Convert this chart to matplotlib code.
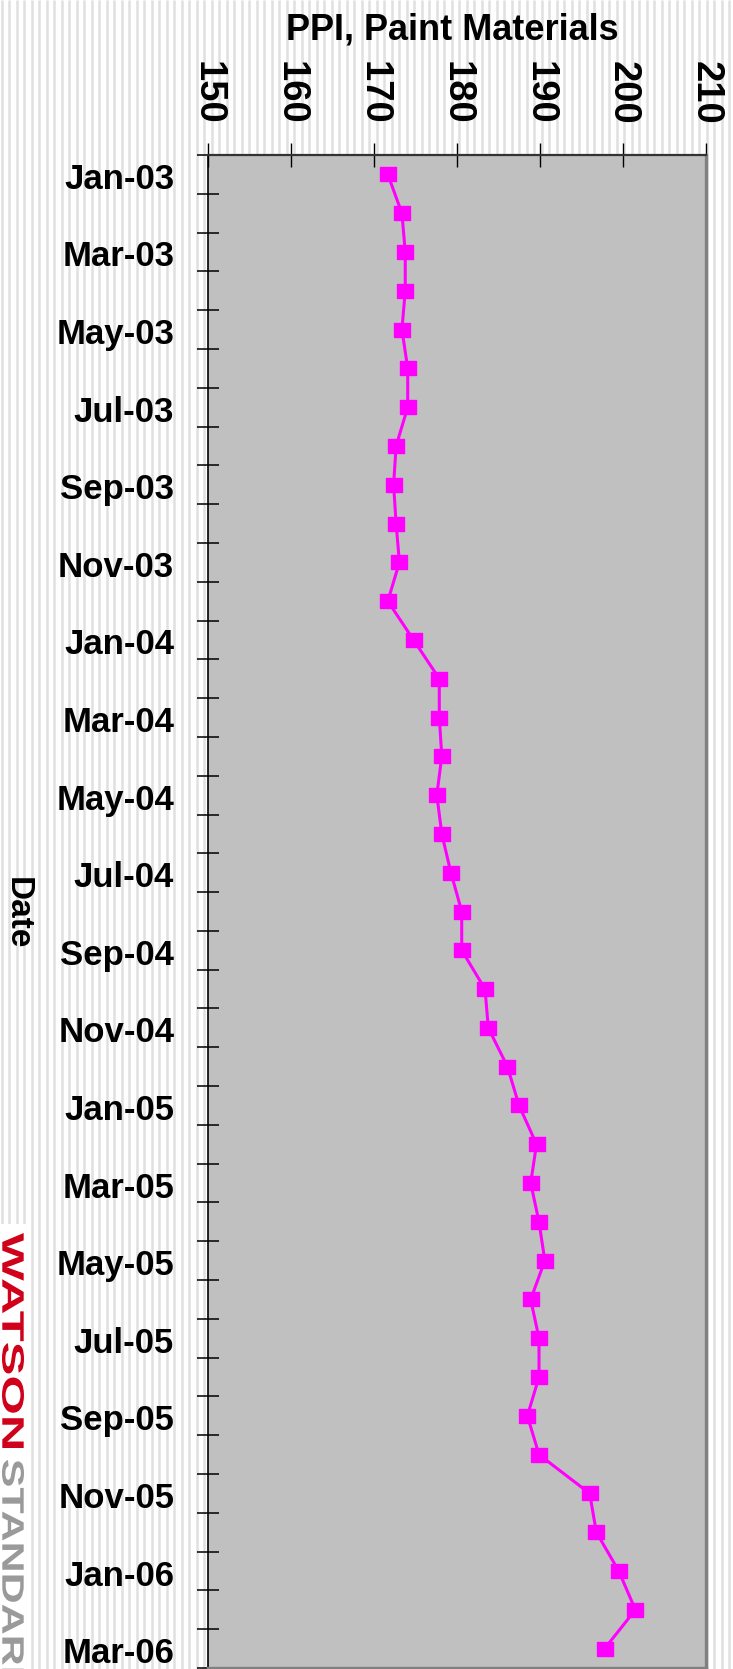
import matplotlib.pyplot as plt
import numpy as np
import pandas as pd
from matplotlib.textpath import TextPath
from matplotlib.patches import PathPatch, Rectangle
from matplotlib.font_manager import FontProperties
from matplotlib.transforms import Affine2D, ScaledTranslation

# monthly categories Jan-03 .. Mar-06
months = pd.date_range("2003-01-01", periods=39, freq="MS").strftime("%b-%y").tolist()

# PPI, Paint Materials
ppi = [171.7, 173.4, 173.8, 173.8, 173.4, 174.1, 174.1, 172.7, 172.4, 172.7,
       173.1, 171.7, 174.8, 177.9, 177.9, 178.2, 177.6, 178.2, 179.3, 180.6,
       180.6, 183.4, 183.8, 186.1, 187.5, 189.6, 188.9, 189.9, 190.6, 188.9,
       189.9, 189.9, 188.5, 189.9, 196.0, 196.8, 199.5, 201.5, 197.8]

x_ticks = [150, 160, 170, 180, 190, 200, 210]

plt.rcParams['font.family'] = ['Liberation Sans', 'DejaVu Sans']
plt.rcParams['font.weight'] = 'bold'

W, H = 733, 1669
fig = plt.figure(figsize=(W / 100, H / 100), dpi=100)

# striped background
bg = fig.add_axes([0, 0, 1, 1], zorder=-10)
bg.set_xlim(0, W)
bg.set_ylim(0, H)
bg.axis('off')
bg.vlines(np.arange(1.5, W, 7.5), 0, H, color='#e0e0e0', lw=1.8)

# logo box
bg.add_patch(Rectangle((0, 0), 31, H - 1224, fc='white', ec='none', zorder=3))
logo_font = FontProperties(family='Liberation Sans', weight='bold')


def logo_word(s, x0, x1, ytop, ybot, color):
    tp = TextPath((0, 0), s, size=100, prop=logo_font)
    bb = tp.get_extents()
    tr = (Affine2D().translate(-bb.x0, -bb.y0)
          .scale((ytop - ybot) / bb.width, (x1 - x0) / bb.height)
          .rotate_deg(-90).translate(x0, ytop))
    bg.add_patch(PathPatch(tr.transform_path(tp), fc=color, ec='none', zorder=4))


logo_word("WATSON", 2, 24, H - 1233, H - 1448, '#d0021b')
logo_word("STANDARD", 2, 24, H - 1460, H - 1695, '#9a9a9a')

# main plot
ax = fig.add_axes([207.5 / W, 1 / H, 498.5 / W, 1513 / H])
ax.set_facecolor('#c0c0c0')

rect = [(-1, -0.8), (1, -0.8), (1, 0.8), (-1, 0.8), (-1, -0.8)]
ax.plot(ppi, np.arange(len(ppi)), color='#ff00ff', lw=2.2, marker=rect, ms=12.2,
        mfc='#ff00ff', mec='#ff00ff', clip_on=False, zorder=3)

ax.set_xlim(150, 210)
ax.set_ylim(len(ppi) - 0.5, -0.5)

ax.xaxis.tick_top()
ax.set_xticks(x_ticks)
ax.set_xticklabels([str(v) for v in x_ticks], rotation=270, fontsize=27.5)
ax.tick_params(axis='x', direction='inout', length=17, width=1, pad=13)

ax.set_yticks(np.arange(-0.5, len(ppi), 1))
ax.set_yticklabels([])
ax.set_yticks(np.arange(0, len(ppi), 2), minor=True)
ax.set_yticklabels(months[::2], minor=True, fontsize=25)
ax.tick_params(axis='y', which='major', direction='inout', length=16.5, width=1.1)
ax.tick_params(axis='y', which='minor', length=0, pad=24)
shift = ScaledTranslation(0, -0.015, fig.dpi_scale_trans)
for lab in ax.get_yticklabels(minor=True):
    lab.set_transform(lab.get_transform() + shift)

ax.spines['left'].set_color('black')
ax.spines['left'].set_linewidth(1.2)
ax.spines['top'].set_color('#333333')
ax.spines['top'].set_linewidth(1.6)
ax.spines['right'].set_color('#808080')
ax.spines['right'].set_linewidth(2.4)
ax.spines['bottom'].set_color('#808080')
ax.spines['bottom'].set_linewidth(2.4)

fig.text(452 / W, 1 - 30 / H, "PPI, Paint Materials", ha='center', va='center', fontsize=26)
fig.text(17 / W, 1 - 913 / H, "Date", ha='center', va='center', rotation=270, fontsize=24)

fig.savefig("out.png", dpi=100)
